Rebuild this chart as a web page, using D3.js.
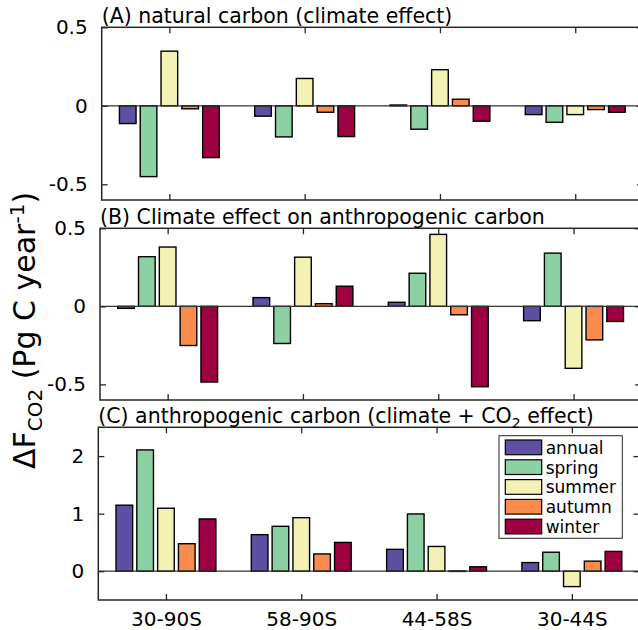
<!DOCTYPE html>
<html>
<head>
<meta charset="utf-8">
<script src="https://cdn.jsdelivr.net/npm/d3@7"></script>
<style>
  html, body { margin: 0; padding: 0; background: #fff; }
  svg { display: block; }
  text { font-family: "DejaVu Sans", sans-serif; fill: #000; }
</style>
</head>
<body>
<svg id="chart" width="638" height="630"></svg>
<script>
// Regions (x categories) and seasons (bar series)
const regions = ["30-90S", "58-90S", "44-58S", "30-44S"];
const seasons = ["annual", "spring", "summer", "autumn", "winter"];
const seasonColors = ["#5e4fa2", "#8bd1a4", "#f3f2b4", "#f98b4d", "#9e0142"];

// (A) natural carbon, climate effect — one row per season, one value per region
const naturalClimate = [
  [-0.113, -0.066, 0.005, -0.056],
  [-0.451, -0.198, -0.149, -0.105],
  [0.348, 0.174, 0.230, -0.056],
  [-0.019, -0.041, 0.042, -0.024],
  [-0.330, -0.196, -0.098, -0.041]
];

// (B) climate effect on anthropogenic carbon
const anthroClimate = [
  [-0.013, 0.056, 0.026, -0.092],
  [0.318, -0.238, 0.212, 0.341],
  [0.380, 0.315, 0.461, -0.397],
  [-0.251, 0.017, -0.054, -0.215],
  [-0.485, 0.129, -0.515, -0.097]
];

// (C) anthropogenic carbon, climate + CO2 effect
const anthroTotal = [
  [1.147, 0.635, 0.380, 0.150],
  [2.107, 0.780, 0.995, 0.330],
  [1.094, 0.930, 0.430, -0.267],
  [0.478, 0.300, 0.005, 0.175],
  [0.908, 0.500, 0.077, 0.344]
];

// y-axis ticks per panel
const ticksAB = [-0.5, 0, 0.5];
const tickLabelsAB = ["-0.5", "0", "0.5"];
const ticksC = [0, 1, 2];
const tickLabelsC = ["0", "1", "2"];

const svg = d3.select("#chart");
const axisColor = "#262626";
const groupStep = 135.3;
const plotWidth = groupStep * regions.length;

const panels = [
  { title: [["(A) natural carbon (climate effect)", null]], data: naturalClimate,
    left: 101.7, top: 27.3, bottom: 200, domain: [-0.6, 0.5], ticks: ticksAB, labels: tickLabelsAB },
  { title: [["(B) Climate effect on anthropogenic carbon", null]], data: anthroClimate,
    left: 100, top: 228.3, bottom: 400, domain: [-0.6, 0.5], ticks: ticksAB, labels: tickLabelsAB },
  { title: [["(C) anthropogenic carbon (climate + CO", null], ["2", "sub"], [" effect)", null]], data: anthroTotal,
    left: 98.3, top: 427.3, bottom: 600, domain: [-0.5, 2.5], ticks: ticksC, labels: tickLabelsC, xLabels: true, legend: true }
];

panels.forEach(p => {
  const g = svg.append("g");
  const right = p.left + plotWidth;

  const x = d3.scaleBand().domain(regions).range([p.left, right]).paddingInner(0).paddingOuter(0);
  // grouped bars: group occupies ~0.769 of a band, each bar 80% of its slot
  const groupWidth = x.bandwidth() * 0.769;
  const xInner = d3.scaleBand().domain(seasons).range([-groupWidth / 2, groupWidth / 2]).paddingInner(0.2).paddingOuter(0.1);
  const y = d3.scaleLinear().domain(p.domain).range([p.bottom, p.top]);

  // clip to the axes box
  const clipId = "clip" + p.top;
  svg.append("clipPath").attr("id", clipId)
    .append("rect").attr("x", p.left).attr("y", p.top).attr("width", plotWidth).attr("height", p.bottom - p.top);

  const plot = g.append("g").attr("clip-path", `url(#${clipId})`);

  // bars
  seasons.forEach((s, si) => {
    plot.append("g").selectAll("rect")
      .data(p.data[si].map((v, ri) => ({ v, region: regions[ri] })))
      .join("rect")
      .attr("x", d => x(d.region) + x.bandwidth() / 2 + xInner(s))
      .attr("width", xInner.bandwidth())
      .attr("y", d => y(Math.max(0, d.v)))
      .attr("height", d => Math.max(0.5, Math.abs(y(d.v) - y(0))))
      .attr("fill", seasonColors[si])
      .attr("stroke", "#000")
      .attr("stroke-width", 1.4);
  });

  // baseline at zero
  plot.append("line")
    .attr("x1", p.left).attr("x2", right)
    .attr("y1", y(0)).attr("y2", y(0))
    .attr("stroke", "#333").attr("stroke-width", 1.3);

  // left y axis (ticks inward)
  const yAxis = d3.axisLeft(y).tickValues(p.ticks).tickFormat((d, i) => p.labels[i]).tickSizeInner(-6).tickSizeOuter(0).tickPadding(14);
  const ya = g.append("g").attr("transform", `translate(${p.left},0)`).call(yAxis);
  ya.select(".domain").remove();
  ya.selectAll("line").attr("stroke", axisColor).attr("stroke-width", 1.3);
  ya.selectAll("text").attr("font-size", 20).attr("font-family", "DejaVu Sans").attr("fill", "#000");

  // right y axis ticks
  const yr = g.append("g").attr("transform", `translate(${right},0)`)
    .call(d3.axisRight(y).tickValues(p.ticks).tickSizeInner(-6).tickSizeOuter(0).tickFormat(""));
  yr.select(".domain").remove();
  yr.selectAll("line").attr("stroke", axisColor).attr("stroke-width", 1.3);

  // x ticks at top and bottom, at region centres
  const xCenter = d3.scalePoint().domain(regions).range([p.left + groupStep / 2, right - groupStep / 2]);
  const xb = g.append("g").attr("transform", `translate(0,${p.bottom})`)
    .call(d3.axisBottom(xCenter).tickSizeInner(-6).tickSizeOuter(0).tickPadding(12)
      .tickFormat(p.xLabels ? (d => d) : ""));
  xb.select(".domain").remove();
  xb.selectAll("line").attr("stroke", axisColor).attr("stroke-width", 1.3);
  xb.selectAll("text").attr("font-size", 20).attr("font-family", "DejaVu Sans").attr("fill", "#000");

  const xt = g.append("g").attr("transform", `translate(0,${p.top})`)
    .call(d3.axisTop(xCenter).tickSizeInner(-6).tickSizeOuter(0).tickFormat(""));
  xt.select(".domain").remove();
  xt.selectAll("line").attr("stroke", axisColor).attr("stroke-width", 1.3);

  // axes box
  g.append("rect")
    .attr("x", p.left).attr("y", p.top)
    .attr("width", plotWidth).attr("height", p.bottom - p.top)
    .attr("fill", "none").attr("stroke", axisColor).attr("stroke-width", 1.5);

  // panel title
  const t = g.append("text").attr("x", p.left).attr("y", p.top - 4).attr("font-size", 20.5);
  p.title.forEach(([txt, kind]) => {
    const sp = t.append("tspan").text(txt);
    if (kind === "sub") sp.attr("font-size", 14).attr("dy", 5);
    else if (sp.node().previousSibling) sp.attr("dy", -5);
  });

  // legend
  if (p.legend) {
    const lg = g.append("g");
    lg.append("rect").attr("x", 499).attr("y", 435.7).attr("width", 123.3).attr("height", 102.6)
      .attr("fill", "#fff").attr("stroke", axisColor).attr("stroke-width", 1);
    const row = lg.selectAll("g.item").data(seasons).join("g").attr("class", "item")
      .attr("transform", (d, i) => `translate(505.3,${440 + i * 19.8})`);
    row.append("rect").attr("width", 36.4).attr("height", 14.7)
      .attr("fill", (d, i) => seasonColors[i]).attr("stroke", "#000").attr("stroke-width", 1.2);
    row.append("text").attr("x", 40.4).attr("y", 13.7)
      .attr("font-family", "Liberation Sans, Arial, sans-serif").attr("font-size", 17)
      .text(d => d);
  }
});

// shared y-axis label
const yl = svg.append("text")
  .attr("transform", "translate(35,330.5) rotate(-90)")
  .attr("text-anchor", "middle")
  .attr("font-size", 30);
yl.append("tspan").text("ΔF");
yl.append("tspan").text("CO2").attr("font-size", 20).attr("dy", 7);
yl.append("tspan").text(" (Pg C year").attr("dy", -7);
yl.append("tspan").text("-1").attr("font-size", 20).attr("dy", -11);
yl.append("tspan").text(")").attr("dy", 11);
</script>
</body>
</html>
